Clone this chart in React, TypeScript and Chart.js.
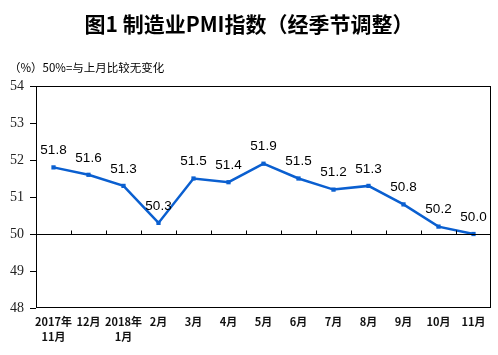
import React, { useEffect, useRef } from "react";
import { Chart, registerables } from "chart.js";

Chart.register(...registerables);

const categories: (string | string[])[] = [
  ["2017年", "11月"], "12月", ["2018年", "1月"], "2月", "3月", "4月", "5月",
  "6月", "7月", "8月", "9月", "10月", "11月",
];
const pmiValues = [51.8, 51.6, 51.3, 50.3, 51.5, 51.4, 51.9, 51.5, 51.2, 51.3, 50.8, 50.2, 50.0];
const yTicks = [48, 49, 50, 51, 52, 53, 54];
const titleText = "图1 制造业PMI指数（经季节调整）";
const subtitleText = "（%）50%=与上月比较无变化";
const baseline = 50;

const CJK = '"Noto Sans CJK SC", "Liberation Sans", sans-serif';

export default function App() {
  const ref = useRef<HTMLCanvasElement | null>(null);
  useEffect(() => {
    if (!ref.current) return;
    const decor = {
      id: "decor",
      beforeDraw(chart: any) {
        const ctx = chart.ctx;
        ctx.save();
        ctx.fillStyle = "#fff";
        ctx.fillRect(0, 0, chart.width, chart.height);
        ctx.fillStyle = "#000";
        ctx.font = `bold 21px ${CJK}`;
        ctx.textAlign = "center";
        ctx.textBaseline = "middle";
        ctx.fillText(titleText, 249, 24);
        ctx.font = `11.5px ${CJK}`;
        ctx.textAlign = "left";
        ctx.fillText(subtitleText, 9, 68);
        ctx.restore();
      },
      afterDatasetsDraw(chart: any) {
        const ctx = chart.ctx;
        const a = chart.chartArea;
        const x = chart.scales.x;
        const y = chart.scales.y;
        ctx.save();
        ctx.strokeStyle = "#000";
        ctx.lineWidth = 1;
        ctx.strokeRect(a.left + 0.5, a.top + 0.5, a.right - a.left - 1, a.bottom - a.top - 1);
        const yb = Math.round(y.getPixelForValue(baseline)) + 0.5;
        ctx.beginPath();
        ctx.moveTo(a.left, yb);
        ctx.lineTo(a.right, yb);
        const half = (x.getPixelForValue(1) - x.getPixelForValue(0)) / 2;
        for (let i = 1; i < categories.length; i++) {
          const px = Math.round(x.getPixelForValue(i) - half) + 0.5;
          ctx.moveTo(px, yb);
          ctx.lineTo(px, yb - 4);
        }
        ctx.stroke();
        ctx.fillStyle = "#000";
        ctx.font = '13.5px "Liberation Sans", Arial, sans-serif';
        ctx.textAlign = "center";
        ctx.textBaseline = "middle";
        pmiValues.forEach((v, i) => {
          ctx.fillText(v.toFixed(1), x.getPixelForValue(i), y.getPixelForValue(v) - 17);
        });
        ctx.restore();
      },
    };
    const chart = new Chart(ref.current, {
      type: "line",
      data: {
        labels: categories as any,
        datasets: [
          {
            data: pmiValues,
            borderColor: "#0a5fd0",
            backgroundColor: "#0a5fd0",
            borderWidth: 2.5,
            pointStyle: "rect",
            pointRadius: 3,
            pointBorderWidth: 0,
            tension: 0,
          },
        ],
      },
      options: {
        responsive: false,
        animation: false,
        layout: { padding: { top: 86, right: 7, left: 0, bottom: 0 } },
        plugins: { legend: { display: false }, tooltip: { enabled: false }, title: { display: false } },
        scales: {
          x: {
            offset: true,
            grid: { display: false, drawTicks: false },
            border: { display: false },
            ticks: {
              color: "#111",
              font: { family: CJK, size: 11, weight: "bold", lineHeight: 1.3 },
              padding: 7,
              maxRotation: 0,
              autoSkip: false,
            },
            afterFit(s: any) { s.height = 47; },
          },
          y: {
            min: 48,
            max: 54,
            afterBuildTicks(s: any) { s.ticks = yTicks.map((v) => ({ value: v })); },
            grid: { drawOnChartArea: false, tickLength: 6, color: "#000" },
            border: { display: false },
            ticks: {
              color: "#222",
              font: { family: '"Liberation Serif", "Times New Roman", serif', size: 14 },
              padding: 6,
            },
            afterFit(s: any) { s.width = 36; },
          },
        },
      },
      plugins: [decor],
    });
    return () => chart.destroy();
  }, []);
  return (
    <div style={{ position: "fixed", left: 0, top: 0, width: 498, height: 355, background: "#fff" }}>
      <canvas ref={ref} width={498} height={355} style={{ display: "block" }} />
    </div>
  );
}
